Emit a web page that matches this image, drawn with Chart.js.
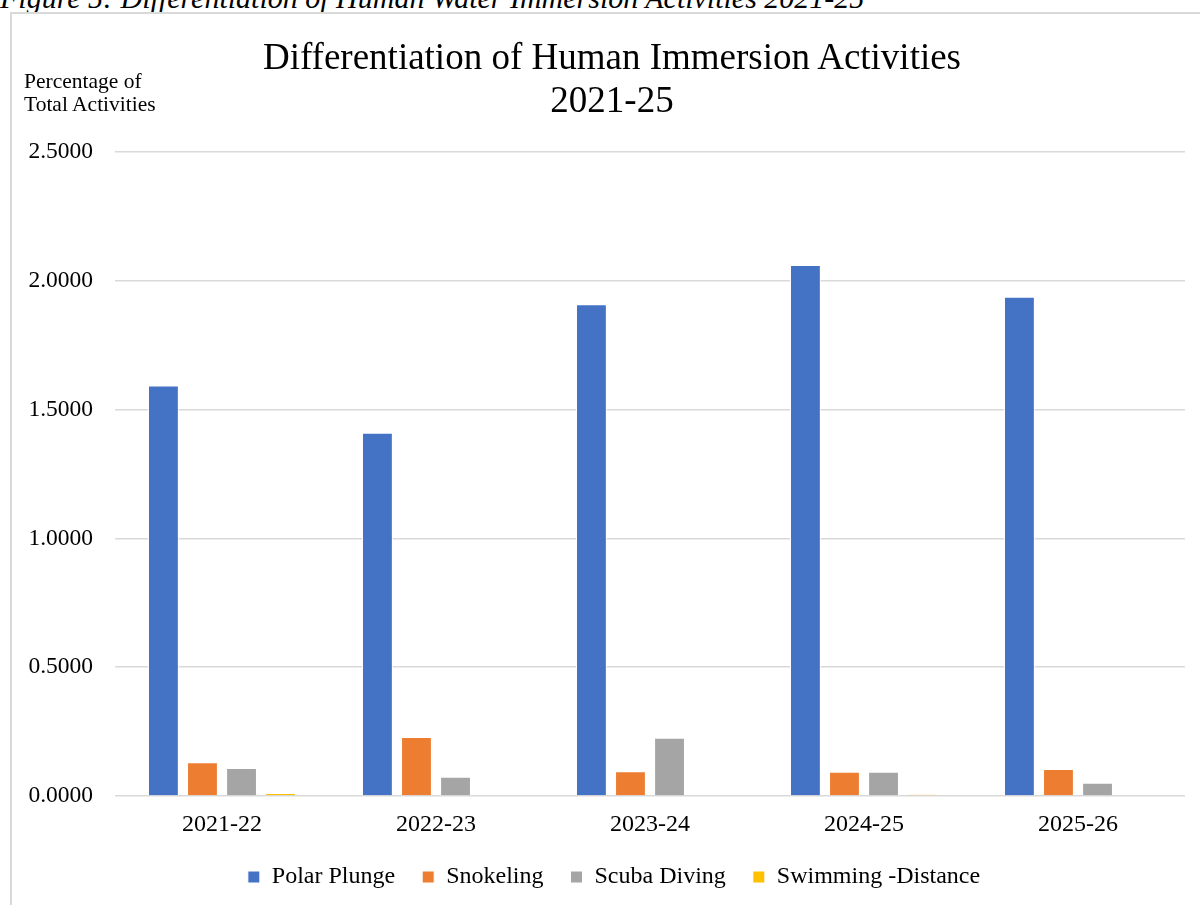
<!DOCTYPE html>
<html>
<head>
<meta charset="utf-8">
<script src="https://cdn.jsdelivr.net/npm/chart.js@4"></script>
<style>
  body { margin: 0; background: #fff; width: 1200px; height: 905px; overflow: hidden; position: relative; font-family: "Liberation Serif", serif; }
  #caption { position: absolute; left: 0; top: -19px; font-style: italic; font-size: 30px; line-height: 34px; white-space: nowrap; color: #000; }
  #frame { position: absolute; left: 10px; top: 12px; width: 1300px; height: 1000px; border: 2px solid #d9d9d9; box-sizing: border-box; }
  #title { position: absolute; left: 0; width: 1224px; top: 35px; text-align: center; font-size: 37px; line-height: 43px; color: #000; }
  #ylabel { position: absolute; left: 24px; top: 70px; font-size: 21.5px; line-height: 23px; color: #000; }
  #myChart { position: absolute; left: 0; top: 0; }
</style>
</head>
<body>
<div id="caption">Figure 5: Differentiation of Human Water Immersion Activities 2021-25</div>
<div id="frame"></div>
<canvas id="myChart" width="1200" height="905"></canvas>
<div id="title">Differentiation of Human Immersion Activities<br>2021-25</div>
<div id="ylabel">Percentage of<br>Total Activities</div>
<script>
const years = ['2021-22', '2022-23', '2023-24', '2024-25', '2025-26'];
const polarPlunge = [1.594, 1.410, 1.909, 2.061, 1.938];
const snorkeling = [0.131, 0.229, 0.096, 0.094, 0.105];
const scubaDiving = [0.109, 0.075, 0.226, 0.094, 0.051];
const swimmingDistance = [0.012, 0, 0, 0.006, 0];
const yTicks = [0, 0.5, 1, 1.5, 2, 2.5];

const ctx = document.getElementById('myChart').getContext('2d');
const serif = 'Liberation Serif';

function serie(label, data, color) {
    return {
        label: label,
        data: data,
        backgroundColor: color,
        borderColor: '#ffffff',
        borderWidth: 1,
        borderSkipped: 'bottom',
        categoryPercentage: 0.73,
        barPercentage: 0.79
    };
}

const myChart = new Chart(ctx, {
    type: 'bar',
    data: {
        labels: years,
        datasets: [
            serie('Polar Plunge', polarPlunge, '#4472c4'),
            serie('Snokeling', snorkeling, '#ed7d31'),
            serie('Scuba Diving', scubaDiving, '#a5a5a5'),
            serie('Swimming -Distance', swimmingDistance, '#ffc000')
        ]
    },
    options: {
        responsive: false,
        animation: false,
        devicePixelRatio: 1,
        layout: { padding: { top: 152, right: 0, left: 28, bottom: 6 } },
        plugins: {
            title: { display: false },
            tooltip: { enabled: false },
            legend: {
                position: 'bottom',
                labels: {
                    color: '#000',
                    font: { family: serif, size: 24 },
                    boxWidth: 12,
                    boxHeight: 12,
                    padding: 27
                }
            }
        },
        scales: {
            x: {
                grid: { display: false, drawTicks: false },
                border: { display: false },
                ticks: { color: '#000', font: { family: serif, size: 24, lineHeight: 1 }, padding: 17 },
                afterFit: scale => { scale.height = 42; }
            },
            y: {
                min: 0,
                max: 2.5,
                afterBuildTicks: axis => { axis.ticks = yTicks.map(v => ({ value: v })); },
                afterFit: scale => { scale.width = 87; },
                grid: { color: '#d9d9d9', lineWidth: 1.5, drawTicks: false },
                border: { display: false },
                ticks: {
                    color: '#000',
                    font: { family: serif, size: 23.5 },
                    padding: 22,
                    callback: v => Number(v).toFixed(4)
                }
            },
            // empty right margin so the plot ends where the reference does
            yRight: {
                position: 'right',
                grid: { display: false },
                border: { display: false },
                ticks: { display: false },
                afterFit: scale => { scale.width = 15; }
            }
        }
    }
});
</script>
</body>
</html>
